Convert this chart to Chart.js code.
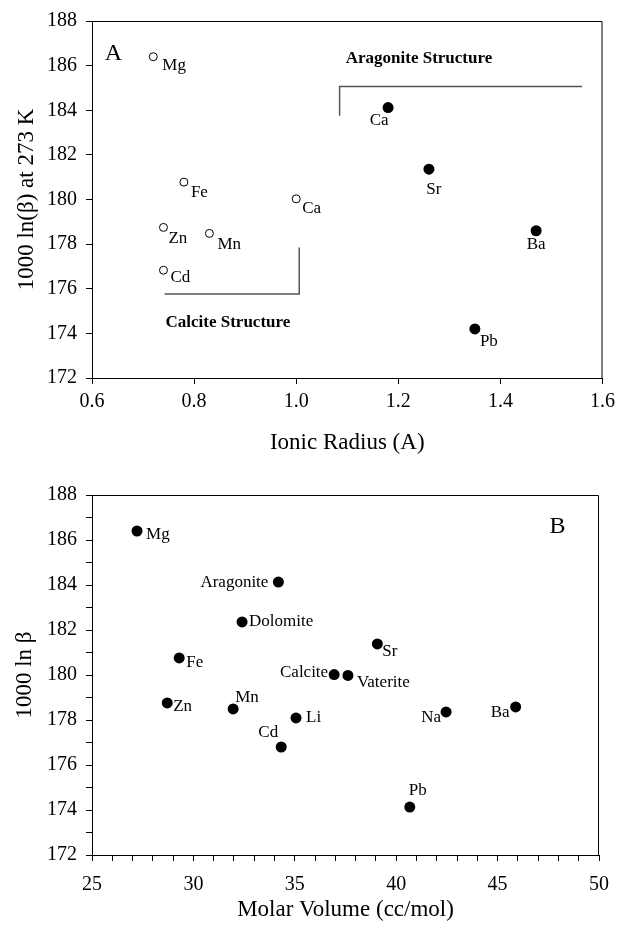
<!DOCTYPE html>
<html>
<head>
<meta charset="utf-8">
<script src="https://cdn.jsdelivr.net/npm/chart.js@4.4.0/dist/chart.umd.min.js"></script>
<style>
  html, body { margin: 0; padding: 0; background: #fff; }
  .panel { position: absolute; left: 0; width: 621px; }
</style>
</head>
<body>
<div class="panel" style="top:0;height:465px"><canvas id="chartA" width="621" height="465"></canvas></div>
<div class="panel" style="top:465px;height:464px"><canvas id="chartB" width="621" height="464"></canvas></div>
<script>
// Panel A: fractionation factor vs. cation ionic radius
const calciteIons = ['Mg', 'Fe', 'Ca', 'Zn', 'Mn', 'Cd'];
const calciteRadius = [0.72, 0.78, 1.00, 0.74, 0.83, 0.74];
const calciteLnBeta = [186.4, 180.78, 180.03, 178.75, 178.48, 176.83];

const aragoniteIons = ['Ca', 'Sr', 'Ba', 'Pb'];
const aragoniteRadius = [1.18, 1.26, 1.47, 1.35];
const aragoniteLnBeta = [184.12, 181.36, 178.6, 174.2];

// brackets grouping the two structure types
const aragoniteBracketX = [1.085, 1.085, 1.56];
const aragoniteBracketY = [183.75, 185.07, 185.07];
const calciteBracketX = [0.742, 1.006, 1.006];
const calciteBracketY = [175.77, 175.77, 177.85];

const radiusTicks = [0.6, 1.6, 0.2];
const lnBetaTicks = [172, 188, 2];

// Panel B: fractionation factor vs. molar volume
const minerals = ['Mg', 'Aragonite', 'Dolomite', 'Fe', 'Sr', 'Calcite', 'Vaterite',
                  'Zn', 'Mn', 'Li', 'Cd', 'Na', 'Ba', 'Pb'];
const molarVolume = [27.22, 34.19, 32.4, 29.3, 39.07, 36.94, 37.62,
                     28.71, 31.96, 35.06, 34.33, 42.46, 45.89, 40.67];
const mineralLnBeta = [186.4, 184.13, 182.36, 180.76, 181.38, 180.02, 179.98,
                       178.76, 178.49, 178.09, 176.8, 178.36, 178.58, 174.13];
const volumeTicks = [25, 50, 5];

// label placement: [dx, dy, align] in pixels from the marker
const calcitePlace = [[9, 9, 'left'], [7, 10, 'left'], [6, 10, 'left'],
                      [5, 11, 'left'], [8, 11, 'left'], [7, 7, 'left']];
const aragonitePlace = [[-9, 13, 'center'], [5, 20, 'center'], [0, 14, 'center'], [5, 13, 'left']];
const mineralPlace = [[9, 4, 'left'], [-10, 0, 'right'], [7, 0, 'left'], [7, 5, 'left'],
                      [5, 8, 'left'], [-6, -2, 'right'], [9, 7, 'left'], [6, 4, 'left'],
                      [2, -11, 'left'], [10, 0, 'left'], [-13, -14, 'center'],
                      [-5, 6, 'right'], [-6, 6, 'right'], [8, -17, 'center']];

const SERIF = '"Liberation Serif", "Times New Roman", serif';
const toPoints = (xs, ys) => xs.map((x, i) => ({ x: x, y: ys[i] }));

// draws the top/right frame, point labels, free text and axis titles
const decorations = {
  id: 'decorations',
  afterDraw(chart, args, opts) {
    const ctx = chart.ctx;
    const a = chart.chartArea;
    const xs = chart.scales.x, ys = chart.scales.y;
    ctx.save();
    ctx.strokeStyle = '#000';
    ctx.lineWidth = 1;
    ctx.beginPath();
    ctx.moveTo(a.left, a.top + 0.5);
    ctx.lineTo(a.right - 0.5, a.top + 0.5);
    ctx.lineTo(a.right - 0.5, a.bottom);
    ctx.stroke();

    ctx.fillStyle = '#000';
    ctx.textBaseline = 'middle';
    ctx.font = '17px ' + SERIF;
    chart.data.datasets.forEach((ds, di) => {
      if (!ds.labels) return;
      const meta = chart.getDatasetMeta(di);
      ds.labels.forEach((txt, i) => {
        const p = meta.data[i];
        const place = ds.place[i];
        ctx.textAlign = place[2];
        ctx.fillText(txt, p.x + place[0], p.y + place[1]);
      });
    });

    (opts.notes || []).forEach(n => {
      ctx.font = n.font;
      ctx.textAlign = n.align;
      ctx.fillText(n.text, xs.getPixelForValue(n.x), ys.getPixelForValue(n.y));
    });

    ctx.font = opts.titleFont;
    ctx.textAlign = 'center';
    ctx.fillText(opts.xTitle, (a.left + a.right) / 2, opts.xTitleY);
    ctx.translate(opts.yTitleX, (a.top + a.bottom) / 2);
    ctx.rotate(-Math.PI / 2);
    ctx.fillText(opts.yTitle, 0, 0);
    ctx.restore();
  }
};

function axis(range, fmt, labelPad, fit, extra) {
  return Object.assign({
    type: 'linear',
    min: range[0],
    max: range[1],
    ticks: {
      stepSize: range[2],
      autoSkip: false,
      maxRotation: 0,
      color: '#000',
      padding: labelPad,
      font: { family: SERIF, size: 20 },
      callback: fmt
    },
    grid: { drawOnChartArea: false, tickLength: 6, tickColor: '#000', tickWidth: 1 },
    border: { color: '#000', width: 1 },
    afterFit: fit
  }, extra || {});
}

new Chart(document.getElementById('chartA'), {
  type: 'scatter',
  data: {
    datasets: [
      {
        data: toPoints(calciteRadius, calciteLnBeta),
        labels: calciteIons, place: calcitePlace,
        pointRadius: 4, backgroundColor: '#fff', borderColor: '#000', borderWidth: 1
      },
      {
        data: toPoints(aragoniteRadius, aragoniteLnBeta),
        labels: aragoniteIons, place: aragonitePlace,
        pointRadius: 5.5, backgroundColor: '#000', borderColor: '#000', borderWidth: 0
      },
      {
        data: toPoints(aragoniteBracketX, aragoniteBracketY),
        showLine: true, pointRadius: 0, borderColor: '#555', borderWidth: 1.5
      },
      {
        data: toPoints(calciteBracketX, calciteBracketY),
        showLine: true, pointRadius: 0, borderColor: '#555', borderWidth: 1.5
      }
    ]
  },
  options: {
    responsive: false,
    animation: false,
    layout: { padding: { top: 17, right: 14, left: 0, bottom: 0 } },
    plugins: {
      legend: { display: false },
      tooltip: { enabled: false },
      decorations: {
        notes: [
          { text: 'A', x: 0.625, y: 186.55, font: '24px ' + SERIF, align: 'left' },
          { text: 'Aragonite Structure', x: 1.097, y: 186.3, font: 'bold 17px ' + SERIF, align: 'left' },
          { text: 'Calcite Structure', x: 0.744, y: 174.48, font: 'bold 17px ' + SERIF, align: 'left' }
        ],
        titleFont: '23px ' + SERIF,
        xTitle: 'Ionic Radius (A)',
        xTitleY: 443,
        yTitle: '1000 ln(\u03B2) at 273 K',
        yTitleX: 27
      }
    },
    scales: {
      x: axis(radiusTicks, v => v.toFixed(1), 6, s => { s.height = 87; }),
      y: axis(lnBetaTicks, v => v, 9, s => { s.width = 92; })
    }
  },
  plugins: [decorations]
});

new Chart(document.getElementById('chartB'), {
  type: 'scatter',
  data: {
    datasets: [
      {
        data: toPoints(molarVolume, mineralLnBeta),
        labels: minerals, place: mineralPlace,
        pointRadius: 5.5, backgroundColor: '#000', borderColor: '#000', borderWidth: 0
      }
    ]
  },
  options: {
    responsive: false,
    animation: false,
    layout: { padding: { top: 30, right: 12, left: 0, bottom: 0 } },
    plugins: {
      legend: { display: false },
      tooltip: { enabled: false },
      decorations: {
        notes: [
          { text: 'B', x: 47.95, y: 186.58, font: '24px ' + SERIF, align: 'center' }
        ],
        titleFont: '23px ' + SERIF,
        xTitle: 'Molar Volume (cc/mol)',
        xTitleY: 445,
        yTitle: '1000 ln \u03B2',
        yTitleX: 25
      }
    },
    scales: {
      // unit steps give the minor tick marks; only every fifth is labelled
      x: axis([volumeTicks[0], volumeTicks[1], 1], v => (v % volumeTicks[2] === 0 ? v : ''), 12,
               s => { s.height = 74; }),
      y: axis([lnBetaTicks[0], lnBetaTicks[1], 1], v => (v % lnBetaTicks[2] === 0 ? v : ''), 9,
               s => { s.width = 92; })
    }
  },
  plugins: [decorations]
});
</script>
</body>
</html>
